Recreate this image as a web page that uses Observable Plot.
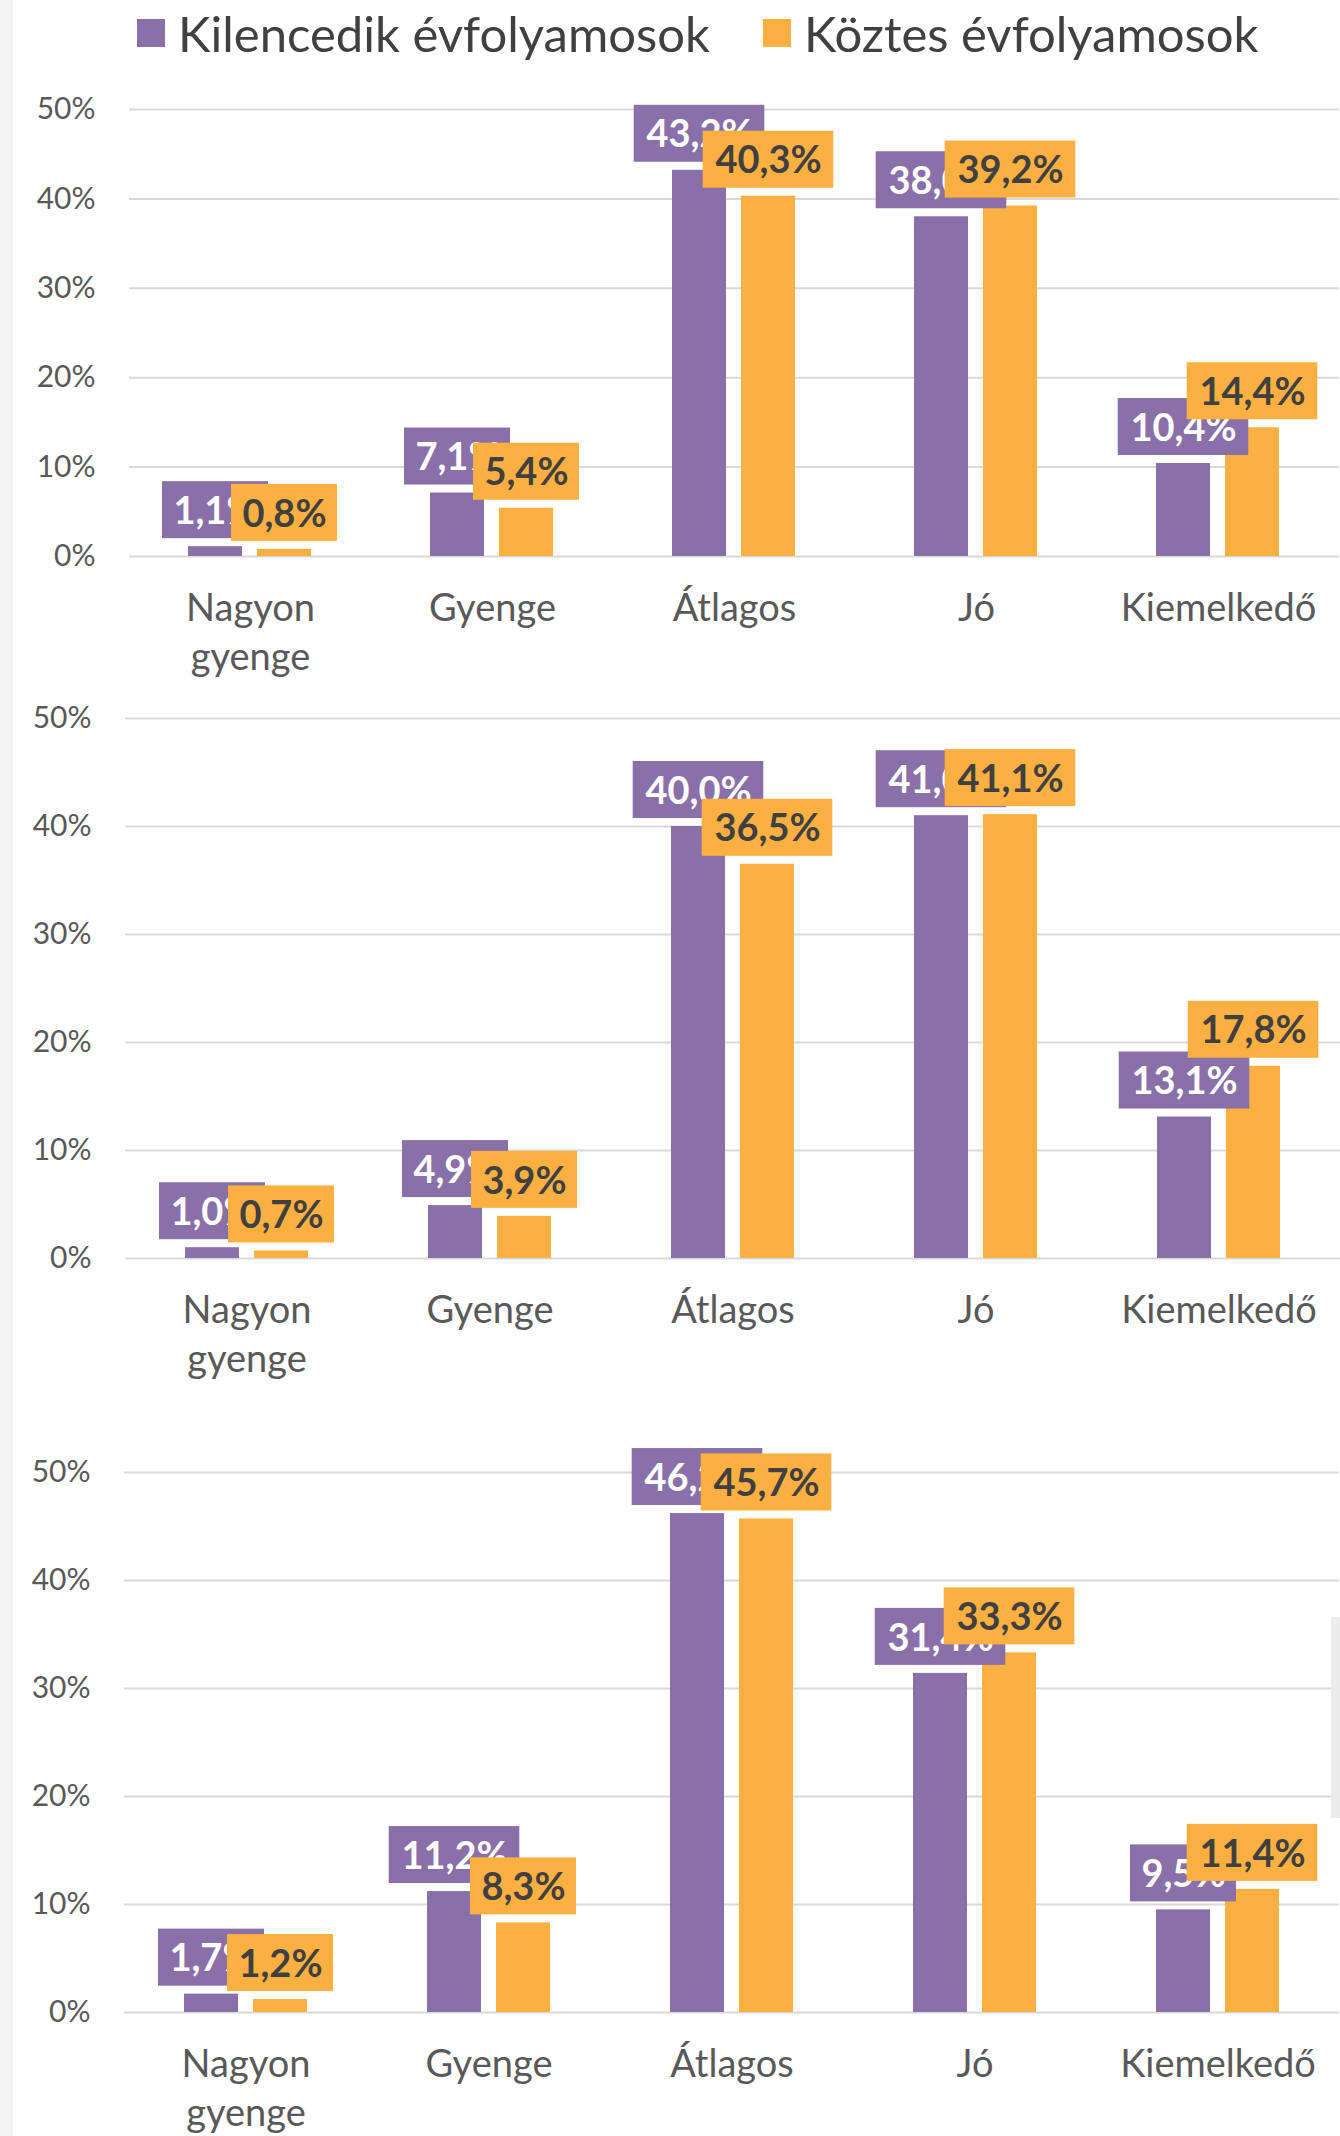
<!DOCTYPE html>
<html>
<head>
<meta charset="utf-8">
<script src="https://cdn.jsdelivr.net/npm/d3@7"></script>
<script src="https://cdn.jsdelivr.net/npm/@observablehq/plot@0.6"></script>
<style>
  html, body { margin: 0; padding: 0; background: #fff; }
  body { width: 1340px; height: 2136px; position: relative; overflow: hidden; font-family: Lato, "Open Sans", sans-serif; }
  #lstrip { position: absolute; left: 0; top: 0; width: 13px; height: 2136px; background: #f3f3f3; }
  #rstrip { position: absolute; left: 1331px; top: 1617px; width: 9px; height: 201px; background: #ececec; }
  #legend { position: absolute; top: 8px; left: 137px; display: flex; align-items: center; font-size: 49px; line-height: 50px; color: #404040; }
  #legend .item { display: flex; align-items: center; }
  #legend .item:first-child { margin-right: 53px; }
  #legend .sw { width: 28px; height: 28px; margin-right: 13px; }
  .panel { position: absolute; left: 0; }
  .panel svg { display: block; }
</style>
</head>
<body>
<div id="lstrip"></div>
<div id="legend"></div>
<div class="panel" id="p1" style="top:60px"></div>
<div class="panel" id="p2" style="top:700px"></div>
<div class="panel" id="p3" style="top:1410px"></div>
<div id="rstrip"></div>
<script>
// ---- data ----
const categories = ["Nagyon gyenge", "Gyenge", "Átlagos", "Jó", "Kiemelkedő"];
const categoryLabels = ["Nagyon\ngyenge", "Gyenge", "Átlagos", "Jó", "Kiemelkedő"];
const series = ["Kilencedik évfolyamosok", "Köztes évfolyamosok"];
const colors = ["#8A70A8", "#FDB042"];
const textColors = ["#FFFFFF", "#404040"];
const yTicks = [0, 10, 20, 30, 40, 50];

const panel1Kilencedik = [1.1, 7.1, 43.2, 38.0, 10.4];
const panel1Koztes     = [0.8, 5.4, 40.3, 39.2, 14.4];
const panel2Kilencedik = [1.0, 4.9, 40.0, 41.0, 13.1];
const panel2Koztes     = [0.7, 3.9, 36.5, 41.1, 17.8];
const panel3Kilencedik = [1.7, 11.2, 46.2, 31.4, 9.5];
const panel3Koztes     = [1.2, 8.3, 45.7, 33.3, 11.4];

// ---- legend ----
const legend = document.getElementById("legend");
series.forEach((s, i) => {
  const item = document.createElement("div");
  item.className = "item";
  const sw = document.createElement("div");
  sw.className = "sw";
  sw.style.background = colors[i];
  const t = document.createElement("span");
  t.textContent = s;
  item.appendChild(sw);
  item.appendChild(t);
  legend.appendChild(item);
});

const FONT = "Lato, 'Open Sans', sans-serif";
const fmt = v => v.toFixed(1).replace(".", ",") + "%";

function rowsFor(k, ko) {
  return categories.flatMap((c, i) => [
    {category: c, series: series[0], value: k[i]},
    {category: c, series: series[1], value: ko[i]}
  ]);
}

function panel(k, ko, L) {
  const rows = rowsFor(k, ko);
  const catRows = categories.map((c, i) => ({category: c, label: categoryLabels[i]}));
  const marks = [
    Plot.ruleY(yTicks, {stroke: "#d9d9d9", strokeWidth: 2}),
    Plot.axisY(yTicks, {
      tickFormat: d => d + "%", tickSize: 0, tickPadding: 34, fontSize: 30, label: null,
      fontFamily: FONT, color: "#595959", anchor: "left", facetAnchor: "left"
    }),
    Plot.barY(rows, {fx: "category", x: "series", y: "value", fill: "series"}),
    Plot.text(catRows, {
      fx: "category", text: "label", frameAnchor: "bottom", lineAnchor: "top",
      dy: 29, fontSize: 38, lineHeight: 1.3, fill: "#595959", fontFamily: FONT
    })
  ];
  series.forEach((s, si) => {
    const sr = rows.filter(d => d.series === s);
    marks.push(Plot.barY(sr.filter(d => d.value < 10), {
      fx: "category", x: "series", y1: "value", y2: "value", fill: colors[si],
      insetTop: -65, insetBottom: 8, insetLeft: -26, insetRight: -26
    }));
    marks.push(Plot.barY(sr.filter(d => d.value >= 10), {
      fx: "category", x: "series", y1: "value", y2: "value", fill: colors[si],
      insetTop: -65, insetBottom: 8, insetLeft: -38.3, insetRight: -38.3
    }));
    marks.push(Plot.text(sr, {
      fx: "category", x: "series", y: "value", text: d => fmt(d.value),
      dy: -35, fill: textColors[si], fontSize: 38, fontWeight: 700, fontFamily: FONT
    }));
  });
  return Plot.plot({
    width: 1340, height: L.height,
    marginTop: L.mt, marginBottom: L.mb, marginLeft: L.ml, marginRight: 0,
    fx: {domain: categories, padding: 0, axis: null},
    x: {domain: series, paddingInner: 0.216, paddingOuter: 0.856, axis: null},
    y: {domain: [0, 50], label: null},
    color: {domain: series, range: colors},
    style: {background: "transparent", overflow: "visible"},
    marks
  });
}

document.getElementById("p1").appendChild(panel(panel1Kilencedik, panel1Koztes, {height: 636, mt: 49, mb: 140, ml: 127}));
document.getElementById("p2").appendChild(panel(panel2Kilencedik, panel2Koztes, {height: 698, mt: 18, mb: 140, ml: 124}));
document.getElementById("p3").appendChild(panel(panel3Kilencedik, panel3Koztes, {height: 726, mt: 62, mb: 124, ml: 122}));
</script>
</body>
</html>
